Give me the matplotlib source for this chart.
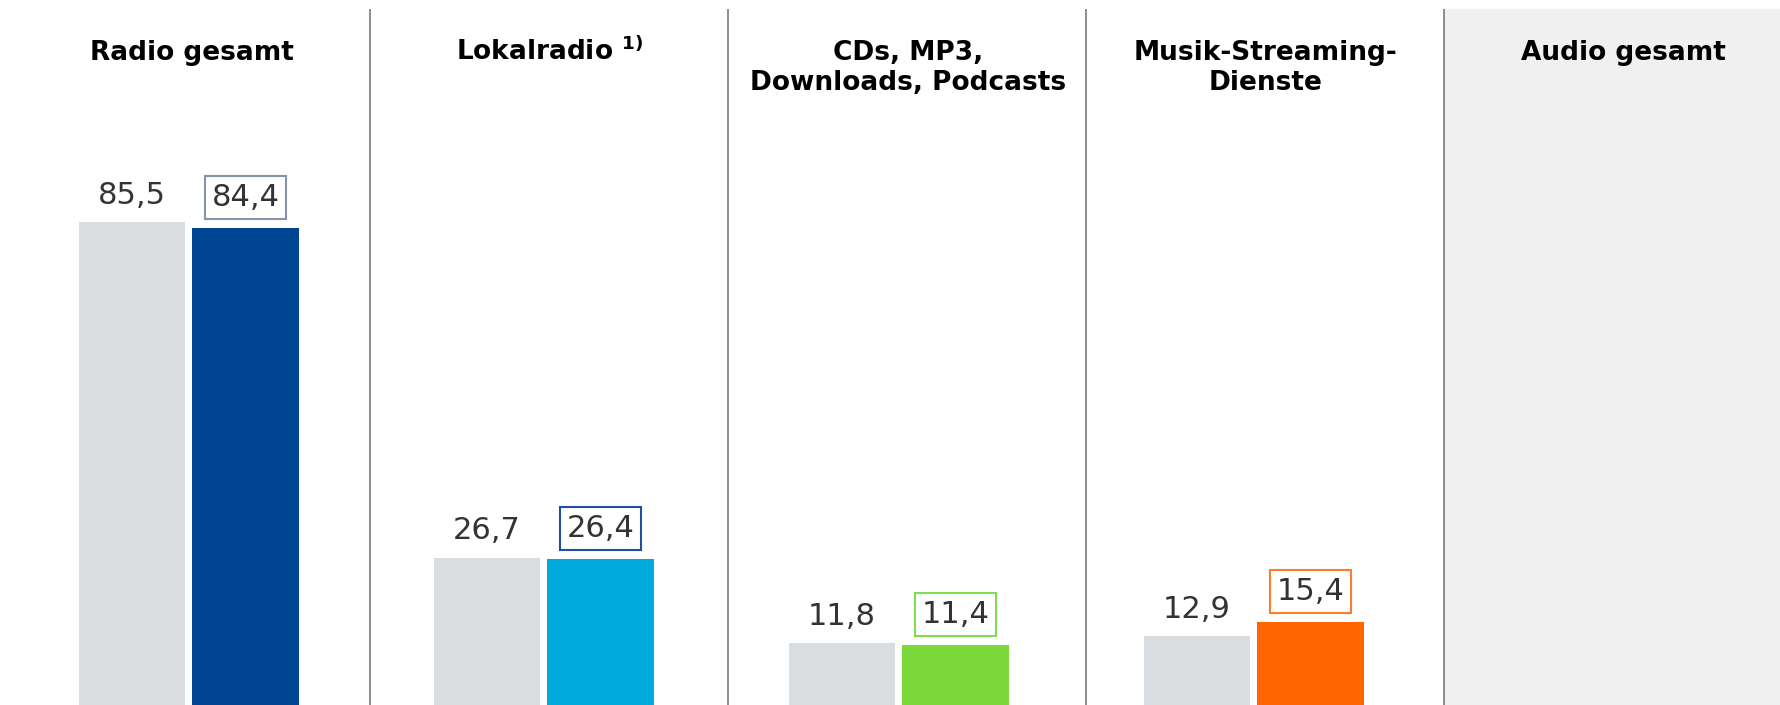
import matplotlib.pyplot as plt
import numpy as np

# Data
categories = ['Radio gesamt', 'Lokalradio $^{\\mathbf{1)}}$', 'CDs, MP3,\nDownloads, Podcasts',
              'Musik-Streaming-\nDienste', 'Audio gesamt']
prev_values = [85.5, 26.7, 11.8, 12.9]
curr_values = [84.4, 26.4, 11.4, 15.4]
curr_colors = ['#004494', '#00aadd', '#7ad83a', '#ff6600']
box_colors = ['#8494ab', '#1f4f9e', '#80dc50', '#ff7a2a']
prev_color = '#d9dde0'

def fmt(v):
    return '{:.1f}'.format(v).replace('.', ',')

fig = plt.figure(figsize=(17.81, 7.05), dpi=100)
ax = fig.add_axes([0, 0, 1, 1])
ax.axis('off')
ax.set_xlim(-0.532, 4.485)
ax.set_ylim(0.9, 124.4)

x = np.arange(len(prev_values))
width = 0.30
off = 0.16
panel_step = 1.0085  # panels are a little wider than the bar spacing

# grey background of the last panel and separators
top = 122.9
seps = 0.51 + panel_step * np.arange(4)
ax.fill_between([seps[-1], 4.6], 0, top, color='#f0f0f0', zorder=0)
ax.vlines(seps, 0, top, color='#7a7a7a', lw=1.2, zorder=1)

ax.bar(x - off, prev_values, width, color=prev_color, zorder=2)
ax.bar(x + off, curr_values, width, color=curr_colors, zorder=2)

for i in range(len(prev_values)):
    ax.text(x[i] - off, prev_values[i] + 3.2, fmt(prev_values[i]), ha='center', va='baseline',
            fontsize=22, color='#333333')
    ax.text(x[i] + off, curr_values[i] + 3.9, fmt(curr_values[i]), ha='center', va='baseline',
            fontsize=22, color='#333333',
            bbox=dict(boxstyle='square,pad=0.22', fc='white', ec=box_colors[i], lw=1.5))

# panel titles, one text per line so the first lines share a baseline
line_step = 5.35
for i, cat in enumerate(categories):
    for j, line in enumerate(cat.split('\n')):
        ax.text(0.008 + i * panel_step, 113.9 - j * line_step, line, ha='center', va='baseline',
                fontsize=19, fontweight='bold', color='black')

fig.savefig('out.png', dpi=100)
